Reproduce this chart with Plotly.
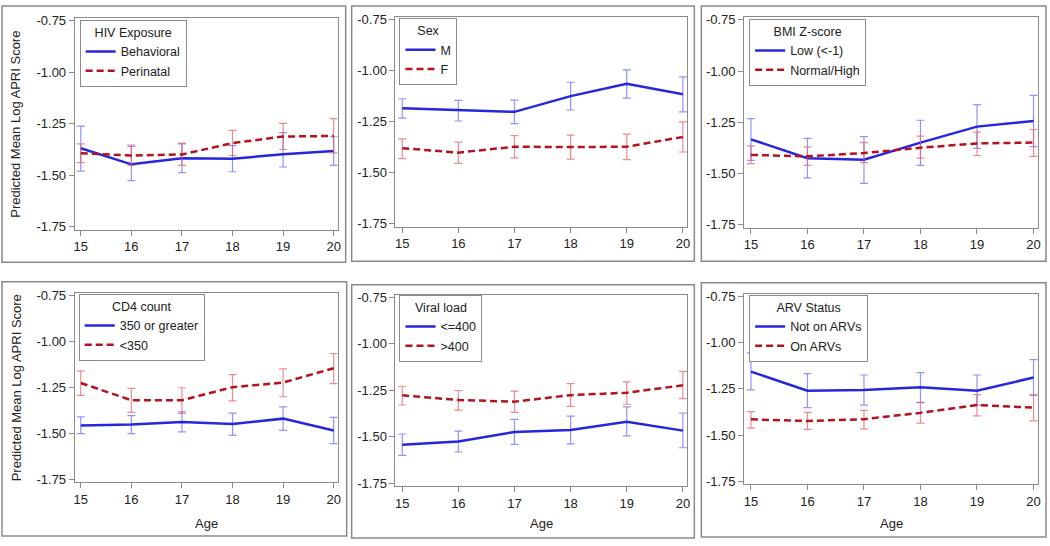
import plotly.graph_objects as go

ages = [15, 16, 17, 18, 19, 20]

# Panel 1: HIV Exposure
hiv_title = "HIV Exposure"
hiv_names = ["Behavioral", "Perinatal"]
hiv_a_est = [-1.369, -1.447, -1.417, -1.420, -1.398, -1.382]
hiv_a_lo = [-1.480, -1.526, -1.487, -1.483, -1.460, -1.452]
hiv_a_hi = [-1.261, -1.360, -1.348, -1.356, -1.293, -1.313]
hiv_b_est = [-1.393, -1.404, -1.399, -1.344, -1.312, -1.309]
hiv_b_lo = [-1.439, -1.452, -1.452, -1.404, -1.375, -1.391]
hiv_b_hi = [-1.348, -1.353, -1.344, -1.282, -1.248, -1.225]

# Panel 2: Sex
sex_title = "Sex"
sex_names = ["M", "F"]
sex_a_est = [-1.184, -1.193, -1.201, -1.124, -1.064, -1.115]
sex_a_lo = [-1.232, -1.246, -1.259, -1.192, -1.134, -1.201]
sex_a_hi = [-1.137, -1.145, -1.144, -1.056, -0.995, -1.030]
sex_b_est = [-1.379, -1.401, -1.372, -1.374, -1.372, -1.324]
sex_b_lo = [-1.430, -1.454, -1.427, -1.433, -1.435, -1.398]
sex_b_hi = [-1.334, -1.350, -1.318, -1.315, -1.310, -1.250]

# Panel 3: BMI Z-score
bmi_title = "BMI Z-score"
bmi_names = ["Low (<-1)", "Normal/High"]
bmi_a_est = [-1.333, -1.425, -1.433, -1.349, -1.271, -1.244]
bmi_a_lo = [-1.436, -1.521, -1.548, -1.460, -1.377, -1.369]
bmi_a_hi = [-1.232, -1.328, -1.320, -1.240, -1.164, -1.119]
bmi_b_est = [-1.409, -1.416, -1.400, -1.374, -1.353, -1.349]
bmi_b_lo = [-1.452, -1.460, -1.447, -1.425, -1.412, -1.416]
bmi_b_hi = [-1.365, -1.370, -1.349, -1.317, -1.298, -1.285]

# Panel 4: CD4 count
cd4_title = "CD4 count"
cd4_names = ["350 or greater", "<350"]
cd4_a_est = [-1.458, -1.452, -1.438, -1.449, -1.420, -1.484]
cd4_a_lo = [-1.502, -1.502, -1.492, -1.511, -1.484, -1.556]
cd4_a_hi = [-1.410, -1.404, -1.383, -1.390, -1.356, -1.413]
cd4_b_est = [-1.226, -1.320, -1.320, -1.249, -1.224, -1.146]
cd4_b_lo = [-1.294, -1.386, -1.392, -1.324, -1.301, -1.230]
cd4_b_hi = [-1.160, -1.256, -1.252, -1.181, -1.149, -1.066]

# Panel 5: Viral load
vl_title = "Viral load"
vl_names = ["<=400", ">400"]
vl_a_est = [-1.543, -1.525, -1.474, -1.463, -1.419, -1.467]
vl_a_lo = [-1.600, -1.582, -1.541, -1.538, -1.495, -1.559]
vl_a_hi = [-1.485, -1.470, -1.406, -1.389, -1.339, -1.372]
vl_b_est = [-1.277, -1.302, -1.311, -1.276, -1.263, -1.223]
vl_b_lo = [-1.329, -1.357, -1.369, -1.336, -1.325, -1.295]
vl_b_hi = [-1.228, -1.251, -1.254, -1.214, -1.205, -1.148]

# Panel 6: ARV Status
arv_title = "ARV Status"
arv_names = ["Not on ARVs", "On ARVs"]
arv_a_est = [-1.157, -1.260, -1.256, -1.242, -1.260, -1.189]
arv_a_lo = [-1.256, -1.352, -1.338, -1.325, -1.338, -1.286]
arv_a_hi = [-1.056, -1.168, -1.175, -1.162, -1.175, -1.092]
arv_b_est = [-1.415, -1.424, -1.414, -1.380, -1.338, -1.352]
arv_b_lo = [-1.462, -1.469, -1.467, -1.435, -1.396, -1.423]
arv_b_hi = [-1.373, -1.377, -1.366, -1.323, -1.281, -1.281]

y_ticks = [-0.75, -1.00, -1.25, -1.50, -1.75]
y_tick_text = ["-0.75", "-1.00", "-1.25", "-1.50", "-1.75"]
y_title = "Predicted Mean Log APRI Score"
x_title = "Age"

panels = [
    (hiv_title, hiv_names, hiv_a_est, hiv_a_lo, hiv_a_hi, hiv_b_est, hiv_b_lo, hiv_b_hi),
    (sex_title, sex_names, sex_a_est, sex_a_lo, sex_a_hi, sex_b_est, sex_b_lo, sex_b_hi),
    (bmi_title, bmi_names, bmi_a_est, bmi_a_lo, bmi_a_hi, bmi_b_est, bmi_b_lo, bmi_b_hi),
    (cd4_title, cd4_names, cd4_a_est, cd4_a_lo, cd4_a_hi, cd4_b_est, cd4_b_lo, cd4_b_hi),
    (vl_title, vl_names, vl_a_est, vl_a_lo, vl_a_hi, vl_b_est, vl_b_lo, vl_b_hi),
    (arv_title, arv_names, arv_a_est, arv_a_lo, arv_a_hi, arv_b_est, arv_b_lo, arv_b_hi),
]

W, H = 1050, 546
FONT = "Liberation Sans, Arial, sans-serif"
BLUE = "#2626DC"
RED = "#B5121E"
BLUE_ERR = "rgba(110,110,250,0.75)"
RED_ERR = "rgba(225,100,110,0.75)"
GREY = "#8a8a8a"

# plot-area pixel geometry: (left, right, top, bottom)
areas = [
    (74, 338, 13, 229),
    (396, 689, 12, 226),
    (746, 1041, 12, 227),
    (74, 338, 293, 486),
    (396, 689, 295, 490),
    (746, 1041, 294, 488),
]
# outer panel boxes (pixels)
boxes = [
    (1, 346, 1, 262),
    (352, 696, 1, 261),
    (703, 1049, 1, 261),
    (1, 347, 282, 541),
    (352, 696, 285, 543),
    (703, 1049, 283, 542),
]
# legend top-left (pixels)
legpos = [(79, 15), (400, 13), (751, 14), (78, 294), (400, 295), (751, 295)]

XR = [14.88, 20.08]
YR = [-1.765, -0.735]

fig = go.Figure()
layout = dict(
    width=W, height=H, margin=dict(l=0, r=0, t=0, b=0),
    paper_bgcolor="white", plot_bgcolor="white",
    font=dict(family=FONT, size=12, color="#222222"),
    shapes=[], annotations=[],
)

for i, (title, names, a_est, a_lo, a_hi, b_est, b_lo, b_hi) in enumerate(panels):
    n = i + 1
    xa = "x" if n == 1 else f"x{n}"
    ya = "y" if n == 1 else f"y{n}"
    leg = "legend" if n == 1 else f"legend{n}"
    l, r, t, b = areas[i]
    for est, lo, hi, name, col, ecol, dash in [
        (a_est, a_lo, a_hi, names[0], BLUE, BLUE_ERR, "solid"),
        (b_est, b_lo, b_hi, names[1], RED, RED_ERR, "7px,4px"),
    ]:
        fig.add_trace(go.Scatter(
            x=ages, y=est, xaxis=xa, yaxis=ya, legend=leg, name=name,
            mode="lines",
            line=dict(color=col, width=2.5, dash=dash),
            error_y=dict(type="data", symmetric=False,
                         array=[h - e for h, e in zip(hi, est)],
                         arrayminus=[e - lo_ for e, lo_ in zip(est, lo)],
                         color=ecol, thickness=1.2, width=4),
        ))
    axcommon = dict(showline=True, linecolor=GREY, linewidth=1, mirror=True,
                    ticks="outside", ticklen=5, tickcolor=GREY, showgrid=False,
                    zeroline=False, tickfont=dict(size=13, color="#222222"))
    layout["xaxis" if n == 1 else f"xaxis{n}"] = dict(
        domain=[l / W, r / W], range=XR, tickvals=ages, anchor=ya, **axcommon)
    layout["yaxis" if n == 1 else f"yaxis{n}"] = dict(
        domain=[1 - b / H, 1 - t / H], range=YR, tickvals=y_ticks,
        ticktext=y_tick_text, anchor=xa, **axcommon)
    lx, ly = legpos[i]
    layout[leg] = dict(
        x=lx / W, y=1 - ly / H, xanchor="left", yanchor="top",
        xref="paper", yref="paper",
        bgcolor="white", bordercolor=GREY, borderwidth=1,
        font=dict(size=12.5, color="#222222"),
        title=dict(text=title, side="top center", font=dict(size=12.5)),
        tracegroupgap=0, itemwidth=30,
    )
    x0, x1, y0, y1 = boxes[i]
    layout["shapes"].append(dict(type="rect", xref="paper", yref="paper",
                                 x0=x0 / W, x1=x1 / W, y0=1 - y1 / H, y1=1 - y0 / H,
                                 line=dict(color=GREY, width=1.5)))
    if i in (0, 3):
        layout["annotations"].append(dict(
            text=y_title, textangle=-90, xref="paper", yref="paper",
            x=15 / W, y=1 - ((t + b) / 2) / H, showarrow=False,
            font=dict(size=13, color="#222222"), xanchor="center", yanchor="middle"))
    if i >= 3:
        layout["annotations"].append(dict(
            text=x_title, xref="paper", yref="paper",
            x=((l + r) / 2) / W, y=1 - 528 / H, showarrow=False,
            font=dict(size=13, color="#222222"), xanchor="center", yanchor="middle"))

fig.update_layout(**layout)
fig.write_html(
    "out.html",
    config={"displayModeBar": False},
    post_script="document.body.style.margin='0';document.body.style.overflow='hidden';",
)
